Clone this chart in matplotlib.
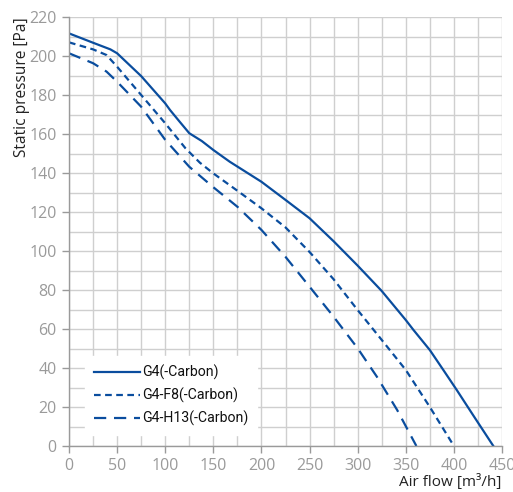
import matplotlib
matplotlib.use("Agg")
import matplotlib.pyplot as plt

# Fan curves
g4_x = [0, 25, 43, 50, 75, 100, 105, 115, 125, 138, 150, 167, 200, 225, 250, 275, 300, 325,
        350, 358, 375, 389, 403, 420, 441]
g4_y = [211.6, 206.8, 203.4, 201.4, 189.7, 175.7, 172.3, 166.3, 160.4, 156.4, 151.8, 145.8,
        135.5, 126.2, 116.8, 105, 92.5, 79.5, 64.6, 59.5, 49.2, 39, 28.7, 15.8, 0]

f8_x = [0, 25, 39, 50, 75, 100, 121, 136, 150, 175, 200, 225, 250, 275, 300, 325, 350, 375, 400]
f8_y = [207, 203.4, 200.5, 194.5, 180, 165.5, 152.7, 145.3, 139.8, 130.9, 121.9, 112.1,
        99.5, 85.5, 69.7, 54.4, 39, 20, 0]

h13_x = [0, 25, 39, 50, 75, 100, 125, 150, 175, 200, 225, 250, 275, 300, 320, 341, 361]
h13_y = [201.4, 196.3, 192, 186.8, 174, 157, 143.2, 132.7, 122.7, 110.8, 97, 81.7,
         66.3, 50.1, 35.5, 18.5, 0]

labels = ["G4(-Carbon)", "G4-F8(-Carbon)", "G4-H13(-Carbon)"]

blue = "#0a4d9e"
grid_c = "#cfcfcf"
tick_c = "#9a9a9a"

fig = plt.figure(figsize=(5.13, 4.92), dpi=100)
ax = fig.add_axes([69 / 513, 46 / 492, 433 / 513, 429 / 492])

ax.plot(g4_x, g4_y, color=blue, lw=1.6, label=labels[0])
ax.plot(f8_x, f8_y, color=blue, lw=1.6, dashes=(3, 2), label=labels[1])
ax.plot(h13_x, h13_y, color=blue, lw=1.6, dashes=(5.5, 3.5), label=labels[2])

ax.set_xlim(0, 450)
ax.set_ylim(0, 220)
ax.set_xticks(range(0, 451, 50))
ax.set_yticks(range(0, 221, 20))
ax.set_xticks(range(25, 451, 50), minor=True)
ax.set_yticks(range(10, 221, 20), minor=True)
ax.grid(True, which="both", color=grid_c, lw=1.0)
ax.set_axisbelow(True)

for s in ["top", "right"]:
    ax.spines[s].set_visible(False)
for s in ["left", "bottom"]:
    ax.spines[s].set_color(tick_c)
    ax.spines[s].set_linewidth(1.0)

ax.tick_params(which="major", direction="out", length=5, color=tick_c, width=1.0,
               labelcolor=tick_c, labelsize=11.5, pad=4)
ax.tick_params(which="minor", length=0)
for t in ax.get_xticklabels() + ax.get_yticklabels():
    t.set_family("Open Sans")

# axis titles: y title sits at the top of the axis, x title at the right
fig.text(22 / 513, 1 - 17 / 492, "Static pressure [Pa]", rotation=90, ha="center", va="top",
         fontsize=11.2, family="Open Sans", color="#222222")
fig.text(501 / 513, 1 - 482 / 492, "Air flow [m³/h]", ha="right", va="center",
         fontsize=11, family="Open Sans", color="#222222")

leg = ax.legend(loc="lower left", bbox_to_anchor=(16 / 433, 11 / 429), frameon=True,
                fancybox=False, framealpha=1, edgecolor="white", facecolor="white",
                handlelength=3.3, handletextpad=0.15, labelspacing=0.55, borderpad=0.6,
                borderaxespad=0, prop={"family": "Roboto", "size": 10.2})
for t in leg.get_texts():
    t.set_color("#111111")

fig.savefig("out.png", dpi=100)
